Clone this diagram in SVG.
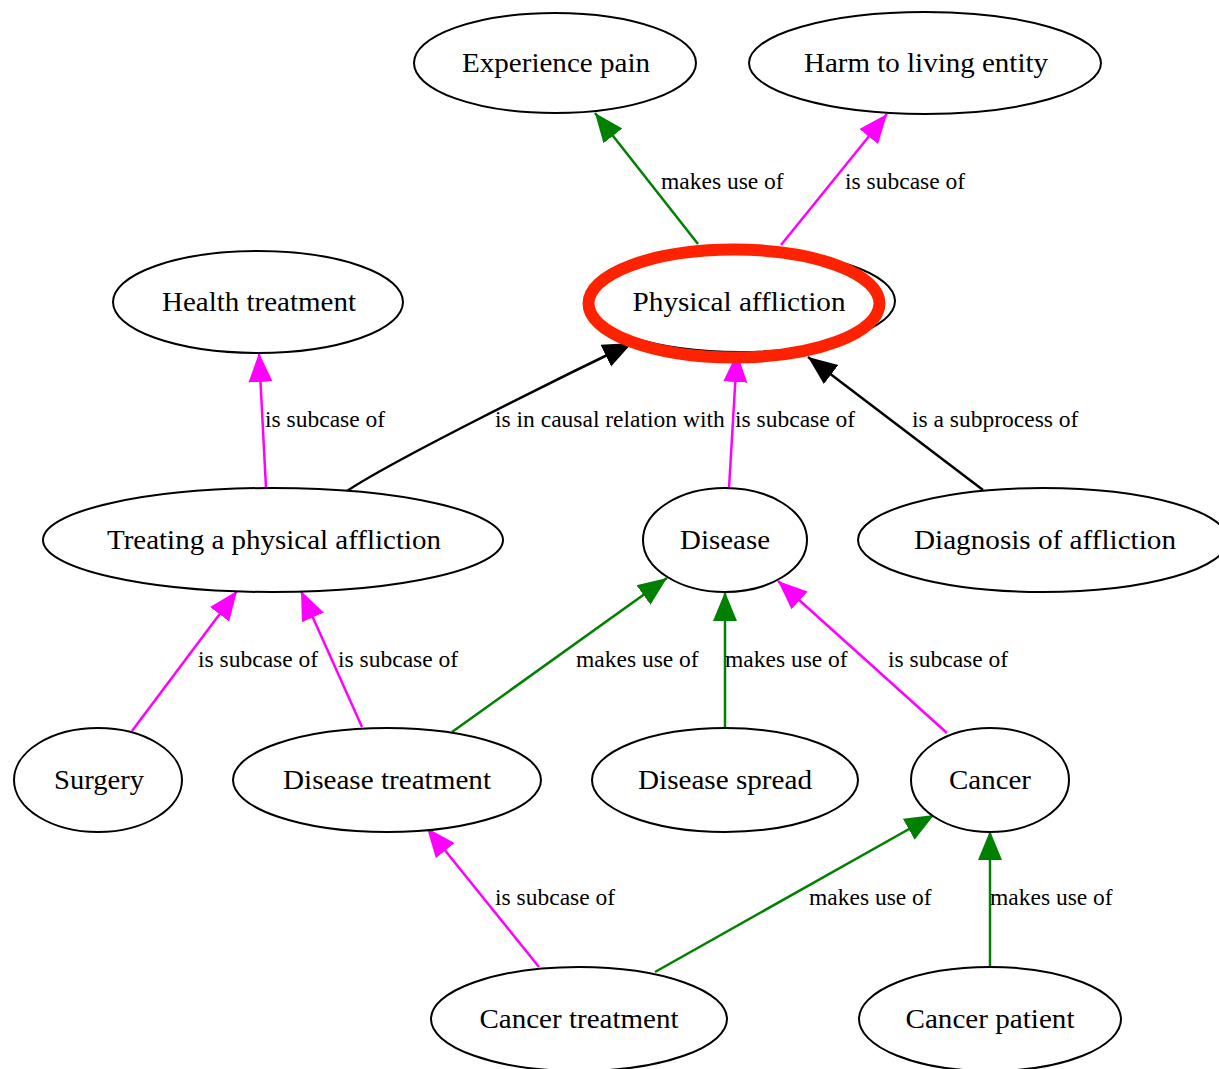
<svg xmlns="http://www.w3.org/2000/svg" width="1219" height="1069" viewBox="0 0 1219 1069">
  <style>
    .node ellipse { fill: #ffffff; stroke: #000000; stroke-width: 2; }
    .node text { font-size: 28px; text-anchor: middle; fill: #000000; }
    .edge { fill: none; stroke-width: 2.5; }
    .lbl { font-size: 23.5px; fill: #000000; }
    .green { stroke: #008000; marker-end: url(#ahGreen); }
    .magenta { stroke: #ff00ff; marker-end: url(#ahMagenta); }
    .black { stroke: #000000; marker-end: url(#ahBlack); }
  </style>
  <defs>
    <marker id="ahGreen" markerUnits="userSpaceOnUse" markerWidth="30" markerHeight="26" viewBox="0 0 30 26" refX="29" refY="13" orient="auto">
      <path d="M0,1 L29,13 L0,25 z" fill="#008000"/>
    </marker>
    <marker id="ahMagenta" markerUnits="userSpaceOnUse" markerWidth="30" markerHeight="26" viewBox="0 0 30 26" refX="29" refY="13" orient="auto">
      <path d="M0,1 L29,13 L0,25 z" fill="#ff00ff"/>
    </marker>
    <marker id="ahBlack" markerUnits="userSpaceOnUse" markerWidth="30" markerHeight="26" viewBox="0 0 30 26" refX="29" refY="13" orient="auto">
      <path d="M0,1 L29,13 L0,25 z" fill="#000000"/>
    </marker>
  </defs>
  <rect width="1219" height="1069" fill="#ffffff"/>

  <g font-family="'Liberation Serif', 'Times New Roman', serif">
  <!-- connectors -->
  <g id="edges">
    <path class="edge green" d="M698,244 L595,113"/>
    <path class="edge magenta" d="M781,245 L887,114"/>
    <path class="edge magenta" d="M266,488 L259,353"/>
    <path class="edge black" d="M347,491 C390,462 551,382 632,343"/>
    <path class="edge magenta" d="M729,488 L737,353"/>
    <path class="edge black" d="M983,490 L808,357"/>
    <path class="edge magenta" d="M132,731 L237,591"/>
    <path class="edge magenta" d="M362,727 L301,591"/>
    <path class="edge green" d="M452,732 L667,578"/>
    <path class="edge green" d="M725,728 L725,592"/>
    <path class="edge magenta" d="M947,733 L778,581"/>
    <path class="edge magenta" d="M539,967 L427,828"/>
    <path class="edge green" d="M655,972 L934,815"/>
    <path class="edge green" d="M990,966 L990,831"/>

    <text class="lbl" x="661" y="189">makes use of</text>
    <text class="lbl" x="845" y="189">is subcase of</text>
    <text class="lbl" x="265" y="427">is subcase of</text>
    <text class="lbl" x="495" y="427">is in causal relation with</text>
    <text class="lbl" x="735" y="427">is subcase of</text>
    <text class="lbl" x="912" y="427">is a subprocess of</text>
    <text class="lbl" x="198" y="667">is subcase of</text>
    <text class="lbl" x="338" y="667">is subcase of</text>
    <text class="lbl" x="576" y="667">makes use of</text>
    <text class="lbl" x="725" y="667">makes use of</text>
    <text class="lbl" x="888" y="667">is subcase of</text>
    <text class="lbl" x="495" y="905">is subcase of</text>
    <text class="lbl" x="809" y="905">makes use of</text>
    <text class="lbl" x="990" y="905">makes use of</text>
  </g>

  <!-- nodes -->
  <g id="experience-pain" class="node">
    <ellipse cx="555" cy="63" rx="141" ry="50"/>
    <text x="556" y="72" textLength="188" lengthAdjust="spacingAndGlyphs">Experience pain</text>
  </g>
  <g id="harm-to-living-entity" class="node">
    <ellipse cx="925" cy="63" rx="176" ry="51"/>
    <text x="926" y="72" textLength="244" lengthAdjust="spacingAndGlyphs">Harm to living entity</text>
  </g>
  <g id="physical-affliction" class="node">
    <ellipse cx="740" cy="301" rx="155" ry="51"/>
    <text x="739" y="311" textLength="213" lengthAdjust="spacingAndGlyphs">Physical affliction</text>
    <!-- highlight ring -->
    <ellipse cx="734" cy="303.5" rx="145.5" ry="54" style="fill:none;stroke:#ff2200;stroke-width:12"/>
  </g>
  <g id="health-treatment" class="node">
    <ellipse cx="258" cy="302" rx="145" ry="51"/>
    <text x="259" y="311" textLength="194" lengthAdjust="spacingAndGlyphs">Health treatment</text>
  </g>
  <g id="treating-a-physical-affliction" class="node">
    <ellipse cx="273" cy="540" rx="230" ry="52"/>
    <text x="274" y="549" textLength="334" lengthAdjust="spacingAndGlyphs">Treating a physical affliction</text>
  </g>
  <g id="disease" class="node">
    <ellipse cx="725" cy="540" rx="82" ry="52"/>
    <text x="725" y="549" textLength="90" lengthAdjust="spacingAndGlyphs">Disease</text>
  </g>
  <g id="diagnosis-of-affliction" class="node">
    <ellipse cx="1043" cy="540" rx="185" ry="52"/>
    <text x="1045" y="549" textLength="262" lengthAdjust="spacingAndGlyphs">Diagnosis of affliction</text>
  </g>
  <g id="surgery" class="node">
    <ellipse cx="98" cy="780" rx="84" ry="52"/>
    <text x="99" y="789" textLength="90" lengthAdjust="spacingAndGlyphs">Surgery</text>
  </g>
  <g id="disease-treatment" class="node">
    <ellipse cx="387" cy="780" rx="154" ry="52"/>
    <text x="387" y="789" textLength="208" lengthAdjust="spacingAndGlyphs">Disease treatment</text>
  </g>
  <g id="disease-spread" class="node">
    <ellipse cx="725" cy="780" rx="133" ry="52"/>
    <text x="725" y="789" textLength="174" lengthAdjust="spacingAndGlyphs">Disease spread</text>
  </g>
  <g id="cancer" class="node">
    <ellipse cx="990" cy="780" rx="79" ry="52"/>
    <text x="990" y="789" textLength="82" lengthAdjust="spacingAndGlyphs">Cancer</text>
  </g>
  <g id="cancer-treatment" class="node">
    <ellipse cx="579" cy="1019" rx="148" ry="52"/>
    <text x="579" y="1028" textLength="199" lengthAdjust="spacingAndGlyphs">Cancer treatment</text>
  </g>
  <g id="cancer-patient" class="node">
    <ellipse cx="990" cy="1019" rx="131" ry="52"/>
    <text x="990" y="1028" textLength="169" lengthAdjust="spacingAndGlyphs">Cancer patient</text>
  </g>
  </g>
</svg>
